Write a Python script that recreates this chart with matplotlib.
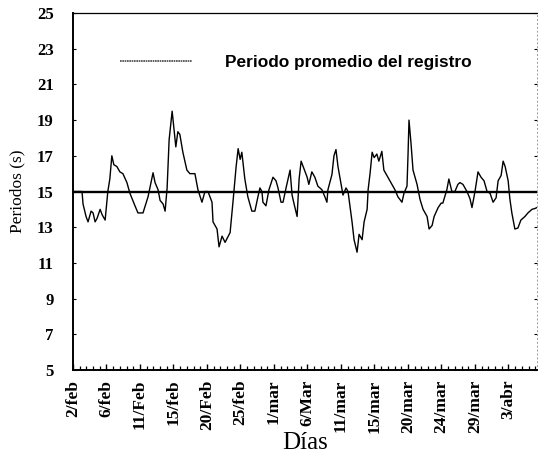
import numpy as np
import matplotlib.pyplot as plt
from matplotlib.ticker import MultipleLocator

# Position along the time axis (in tick-label steps) and period values (s)
t = [0.00, 0.27, 0.30, 0.39, 0.45, 0.54, 0.60, 0.66, 0.72, 0.81, 0.87, 0.96, 1.01, 1.04,
     1.10, 1.16, 1.22, 1.31, 1.40, 1.49, 1.61, 1.70, 1.85, 1.94, 2.09, 2.24, 2.39, 2.45,
     2.54, 2.60, 2.69, 2.75, 2.81, 2.84, 2.87, 2.96, 3.01, 3.07, 3.13, 3.19, 3.28, 3.40,
     3.49, 3.64, 3.73, 3.85, 3.94, 4.03, 4.15, 4.18, 4.30, 4.36, 4.45, 4.54, 4.69, 4.78,
     4.87, 4.93, 4.99, 5.04, 5.13, 5.22, 5.34, 5.43, 5.52, 5.58, 5.64, 5.67, 5.76, 5.85,
     5.97, 6.06, 6.12, 6.21, 6.27, 6.36, 6.48, 6.54, 6.60, 6.69, 6.75, 6.81, 6.87, 6.99,
     7.04, 7.13, 7.22, 7.31, 7.43, 7.52, 7.58, 7.61, 7.73, 7.79, 7.85, 7.91, 8.03, 8.06,
     8.15, 8.21, 8.33, 8.39, 8.48, 8.54, 8.63, 8.69, 8.78, 8.81, 8.87, 8.93, 8.99, 9.07,
     9.13, 9.22, 9.28, 9.40, 9.52, 9.61, 9.70, 9.82, 9.88, 9.97, 10.00, 10.03, 10.09,
     10.15, 10.27, 10.36, 10.45, 10.57, 10.63, 10.72, 10.78, 10.90, 10.99, 11.04, 11.16,
     11.22, 11.31, 11.40, 11.49, 11.55, 11.64, 11.76, 11.85, 11.91, 12.00, 12.09, 12.18,
     12.27, 12.36, 12.45, 12.54, 12.63, 12.69, 12.78, 12.84, 12.90, 12.99, 13.04, 13.10,
     13.19, 13.28, 13.37, 13.49, 13.58, 13.70, 13.79, 13.85]
periodo = [15.0, 15.0, 14.3, 13.6, 13.3, 13.9, 13.8, 13.3, 13.5, 14.0, 13.7, 13.4, 14.4, 15.0,
           15.7, 17.0, 16.5, 16.4, 16.1, 16.0, 15.5, 14.9, 14.2, 13.8, 13.8, 14.7, 16.05, 15.5,
           15.1, 14.5, 14.3, 13.9, 15.2, 16.6, 17.9, 19.5, 18.6, 17.5, 18.35, 18.2, 17.2, 16.2,
           16.0, 16.0, 15.1, 14.4, 15.0, 15.0, 14.4, 13.3, 12.9, 11.9, 12.5, 12.15, 12.7, 14.5,
           16.4, 17.4, 16.8, 17.2, 15.7, 14.7, 13.9, 13.9, 14.7, 15.2, 15.0, 14.4, 14.2, 15.1,
           15.8, 15.6, 15.2, 14.4, 14.4, 15.2, 16.2, 14.8, 14.3, 13.6, 15.7, 16.7, 16.4, 15.8,
           15.4, 16.1, 15.8, 15.3, 15.1, 14.7, 14.4, 15.1, 15.95, 17.0, 17.35, 16.4, 15.1, 14.8,
           15.2, 15.0, 13.3, 12.3, 11.6, 12.6, 12.3, 13.3, 14.0, 15.1, 16.05, 17.2, 16.9, 17.1,
           16.7, 17.25, 16.2, 15.8, 15.4, 15.1, 14.7, 14.4, 14.9, 15.3, 17.0, 19.0, 17.7,
           16.2, 15.4, 14.55, 14.0, 13.6, 12.9, 13.1, 13.6, 14.1, 14.35, 14.35, 15.1,
           15.7, 15.0, 15.0, 15.4, 15.5, 15.4, 15.0, 14.6, 14.1, 15.0, 16.1, 15.8,
           15.6, 15.0, 14.9, 14.4, 14.65, 15.6, 15.9, 16.7, 16.4, 15.6, 14.6, 13.8,
           12.9, 12.95, 13.4, 13.6, 13.8, 14.0, 14.05, 14.1]
promedio = 15.0
dias = ["2/feb", "6/feb", "11/Feb", "15/feb", "20/Feb", "25/feb", "1/mar",
        "6/Mar", "11/mar", "15/mar", "20/mar", "24/mar", "29/mar", "3/abr"]

fig = plt.figure(figsize=(5.43, 4.65), dpi=100)
ax = fig.add_axes([0.1344, 0.2043, 0.8545, 0.7677])

ax.plot(t, periodo, color="black", linewidth=1.0)
ax.axhline(promedio, color="black", linewidth=1.7)

# legend-like sample line and label
ax.plot([], [], color="#444444", linewidth=1.2, linestyle=(0, (1, 0.4)),
        label="Periodo promedio del registro")
ax.legend(loc="center left", bbox_to_anchor=(0.101, 0.862), frameon=False,
          borderpad=0, borderaxespad=0, handlelength=4.2, handletextpad=1.9,
          prop={"family": "Liberation Sans", "weight": "bold", "size": 12.4})

ax.set_xlim(0, 13.85)
ax.set_ylim(5, 25)
ax.set_yticks(np.arange(5, 26, 2))
ax.set_xticks(np.arange(len(dias)))
ax.set_xticklabels(dias, rotation=90, family="Liberation Serif", weight="bold", fontsize=12.5)
for lab in ax.get_yticklabels():
    lab.set_family("Liberation Serif")
    lab.set_weight("bold")
    lab.set_fontsize(12)
ax.xaxis.set_minor_locator(MultipleLocator(0.2))
ax.tick_params(axis="x", which="major", direction="in", length=4, width=1, pad=7)
ax.tick_params(axis="x", which="minor", direction="in", length=3, width=0.9)
ax.tick_params(axis="y", which="major", direction="in", length=2, width=0.8, pad=14,
               right=True)

ax.spines["left"].set_linewidth(1.4)
ax.spines["bottom"].set_linewidth(1.4)
ax.spines["top"].set_linestyle((0, (1, 1)))
ax.spines["top"].set_linewidth(0.9)
ax.spines["right"].set_linestyle((0, (1, 3)))
ax.spines["right"].set_color("#999999")
ax.spines["right"].set_linewidth(0.7)

ax.set_ylabel("Periodos (s)", family="Liberation Serif", fontsize=12.5, labelpad=8)
ax.set_xlabel("Días", family="Liberation Serif", fontsize=18, labelpad=-1)

fig.savefig("out.png", dpi=100)
